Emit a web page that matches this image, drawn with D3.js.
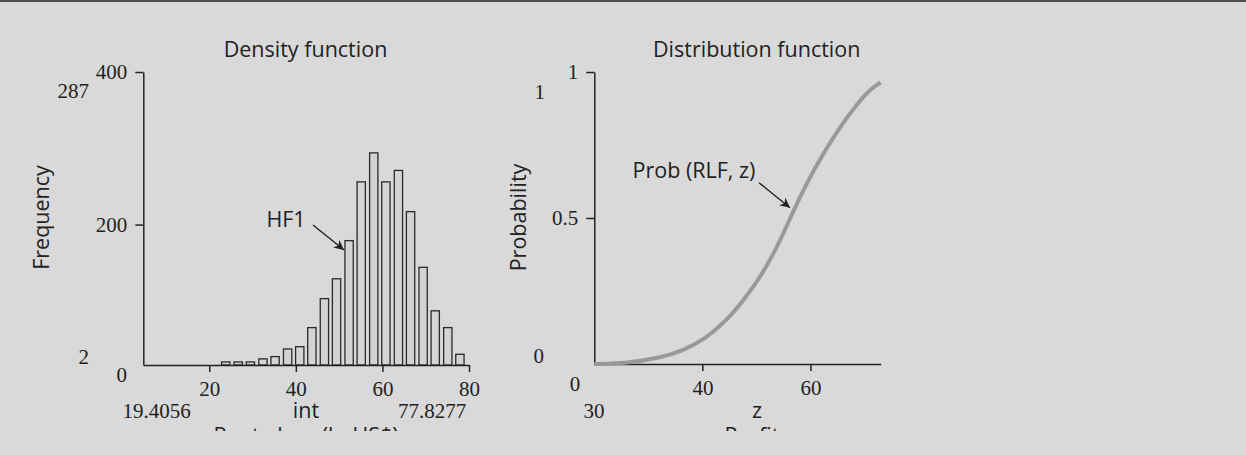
<!DOCTYPE html>
<html><head><meta charset="utf-8">
<script src="https://cdn.jsdelivr.net/npm/d3@7"></script>
<style>
html,body{margin:0;padding:0;background:#d9d9d9;}
svg{display:block;}
.num{font-family:"Liberation Serif","Times New Roman",serif;font-size:21px;fill:#222;}
.txt{font-family:"Open Sans","Noto Sans",sans-serif;font-size:21.5px;fill:#222;}
</style></head>
<body>
<svg id="c" width="1246" height="455"></svg>
<script>
// ---- Data: histogram (Density function) ----
const binCenters = [23.8, 26.7, 29.5, 32.4, 35.2, 38.1, 40.9, 43.7, 46.6, 49.4, 52.3, 55.1, 58.0, 60.8, 63.7, 66.5, 69.4, 72.2, 75.1, 77.9];
const binFreq    = [20, 20, 20, 24, 27, 37, 40, 65, 103, 129, 179, 256, 294, 256, 271, 217, 144, 87, 65, 30];
const binHalfWidth = 0.96;
const histXTicks = [20, 40, 60, 80];
const histYTicks = [200, 400];
const histExtra = {min:"19.4056", max:"77.8277", label:"int", freqMax:"287", freqMin:"2"};

// ---- Data: cumulative distribution (Distribution function) ----
const cdfZ = [20, 26.1, 32.3, 36.0, 40.3, 44.6, 47.7, 50.8, 53.9, 56.5, 59.3, 62.4, 65.5, 68.6, 71.0, 73.0];
const cdfP = [0, 0.002, 0.022, 0.043, 0.082, 0.151, 0.22, 0.299, 0.402, 0.51, 0.62, 0.722, 0.813, 0.89, 0.94, 0.964];
const cdfXTicks = [40, 60];
const cdfYTicks = [0.5, 1];

const svg = d3.select("#c");
svg.append("rect").attr("x",0).attr("y",0).attr("width",1246).attr("height",455).attr("fill","#d9d9d9");
svg.append("rect").attr("x",0).attr("y",0).attr("width",1246).attr("height",2).attr("fill","#4d4d4d");

const defs = svg.append("defs");
defs.append("marker").attr("id","arr").attr("viewBox","0 0 10 10").attr("refX",10).attr("refY",5)
  .attr("markerWidth",10).attr("markerHeight",10).attr("markerUnits","userSpaceOnUse").attr("orient","auto")
  .append("path").attr("d","M0,0 L10,5 L0,10 L3,5 Z").attr("fill","#222");
defs.append("clipPath").attr("id","clipB").append("rect").attr("x",0).attr("y",0).attr("width",1246).attr("height",431);

function styleAxis(g){
  g.selectAll("path.domain").attr("stroke","#222").attr("stroke-width",1.5);
  g.selectAll(".tick line").attr("stroke","#222").attr("stroke-width",1.5);
  g.selectAll(".tick text").attr("class","num").attr("font-family",null).attr("font-size",null).attr("fill","#222");
}

// ===== Left: histogram =====
const hx = d3.scaleLinear().domain([4.76, 80]).range([143.3, 469]);
const hy = d3.scaleLinear().domain([16, 400]).range([365, 72]);

const hist = svg.append("g");
hist.selectAll("rect.bar").data(binCenters).join("rect").attr("class","bar")
  .attr("x",(d)=>hx(d-binHalfWidth))
  .attr("width",(d)=>hx(d+binHalfWidth)-hx(d-binHalfWidth))
  .attr("y",(d,i)=>hy(binFreq[i]))
  .attr("height",(d,i)=>hy.range()[0]-hy(binFreq[i]))
  .attr("fill","#d3d3d3").attr("stroke","#2a2a2a").attr("stroke-width",1.3);

const hxAxis = hist.append("g").attr("transform",`translate(0,${hy.range()[0]})`)
  .call(d3.axisBottom(hx).tickValues(histXTicks).tickSize(7).tickSizeOuter(0).tickPadding(9));
styleAxis(hxAxis);
const hyAxis = hist.append("g").attr("transform",`translate(${hx.range()[0]},0)`)
  .call(d3.axisLeft(hy).tickValues(histYTicks).tickSize(8).tickSizeOuter(0).tickPadding(8));
styleAxis(hyAxis);
hist.append("text").attr("class","num").attr("x",127).attr("y",hy(0)-2).attr("dy","0.32em").attr("text-anchor","end").text("0");
hist.append("text").attr("class","num").attr("x",89).attr("y",98).attr("text-anchor","end").text(histExtra.freqMax);
hist.append("text").attr("class","num").attr("x",89).attr("y",364).attr("text-anchor","end").text(histExtra.freqMin);
hist.append("text").attr("class","num").attr("x",156.5).attr("y",418).attr("text-anchor","middle").text(histExtra.min);
hist.append("text").attr("class","num").attr("x",432).attr("y",418).attr("text-anchor","middle").text(histExtra.max);
hist.append("text").attr("class","txt").attr("x",306).attr("y",418).attr("text-anchor","middle").text(histExtra.label);
hist.append("text").attr("class","txt").attr("x",306).attr("y",443).attr("text-anchor","middle").attr("clip-path","url(#clipB)").text("Rente loss (b. US$)");
hist.append("text").attr("class","txt").attr("x",305.5).attr("y",57).attr("text-anchor","middle").text("Density function");
hist.append("text").attr("class","txt").attr("transform","translate(49,217.5) rotate(-90)").attr("text-anchor","middle").text("Frequency");
hist.append("text").attr("class","txt").attr("x",286).attr("y",227).attr("text-anchor","middle").text("HF1");
hist.append("line").attr("x1",313).attr("y1",225).attr("x2",344).attr("y2",250)
  .attr("stroke","#222").attr("stroke-width",1.4).attr("marker-end","url(#arr)");

// ===== Right: CDF =====
const cx = d3.scaleLinear().domain([20, 73]).range([594.3, 880.7]);
const cy = d3.scaleLinear().domain([0, 1]).range([364, 72]);
const cdf = svg.append("g");
const cxAxis = cdf.append("g").attr("transform",`translate(0,${cy(0)})`)
  .call(d3.axisBottom(cx).tickValues(cdfXTicks).tickSize(7).tickSizeOuter(0).tickPadding(9));
styleAxis(cxAxis);
const cyAxis = cdf.append("g").attr("transform",`translate(${cx.range()[0]},0)`)
  .call(d3.axisLeft(cy).tickValues(cdfYTicks).tickSize(8).tickSizeOuter(0).tickPadding(8));
styleAxis(cyAxis);
cyAxis.selectAll(".tick text").text((d)=>d===1?"1":d3.format(".1f")(d));

const line = d3.line().x((d)=>cx(d[0])).y((d)=>cy(d[1])).curve(d3.curveBasis);
cdf.append("path").datum(cdfZ.map((z,i)=>[z,cdfP[i]])).attr("d",line)
  .attr("fill","none").attr("stroke","#999").attr("stroke-width",4);

cdf.append("text").attr("class","num").attr("x",545).attr("y",99).attr("text-anchor","end").text("1");
cdf.append("text").attr("class","num").attr("x",544).attr("y",363).attr("text-anchor","end").text("0");
cdf.append("text").attr("class","num").attr("x",575).attr("y",390.7).attr("text-anchor","middle").text("0");
cdf.append("text").attr("class","num").attr("x",594).attr("y",417.7).attr("text-anchor","middle").text("30");
cdf.append("text").attr("class","txt").attr("x",757).attr("y",418).attr("text-anchor","middle").text("z");
cdf.append("text").attr("class","txt").attr("x",757).attr("y",443).attr("text-anchor","middle").attr("clip-path","url(#clipB)").text("Profits");
cdf.append("text").attr("class","txt").attr("x",756.7).attr("y",57).attr("text-anchor","middle").text("Distribution function");
cdf.append("text").attr("class","txt").attr("transform","translate(526,217.5) rotate(-90)").attr("text-anchor","middle").text("Probability");
cdf.append("text").attr("class","txt").attr("x",694).attr("y",177.5).attr("text-anchor","middle").text("Prob (RLF, z)");
cdf.append("line").attr("x1",759).attr("y1",182.7).attr("x2",790).attr("y2",207.7)
  .attr("stroke","#222").attr("stroke-width",1.4).attr("marker-end","url(#arr)");
</script>
</body></html>
